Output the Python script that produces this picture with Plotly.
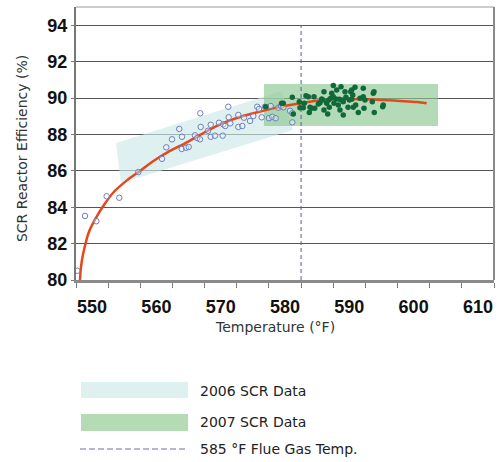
import plotly.graph_objects as go

# ---- data ----
x_2006 = [550.20, 551.40, 553.16, 554.77, 556.73, 559.69, 563.37, 564.04, 564.93, 566.06,
          566.48, 566.44, 567.10, 567.52, 568.50, 568.86, 569.28, 569.33, 569.39, 570.53,
          570.95, 570.95, 571.61, 572.24, 572.81, 572.90, 573.22, 573.68, 573.74, 573.99,
          575.24, 575.24, 575.86, 576.12, 577.06, 577.57, 578.19, 578.46, 578.88, 579.39,
          580.01, 580.28, 580.52, 581.05, 581.46, 581.88, 582.24, 583.28, 583.63, 583.63]
y_2006 = [80.51, 83.52, 83.23, 84.60, 84.52, 85.93, 86.66, 87.29, 87.73, 88.30,
          87.87, 87.20, 87.27, 87.31, 87.95, 87.80, 87.73, 89.16, 88.41, 88.20,
          88.53, 87.87, 87.93, 88.64, 87.93, 88.55, 88.46, 89.52, 88.94, 88.61,
          89.07, 88.41, 88.46, 88.92, 88.74, 89.01, 89.52, 89.40, 88.94, 89.52,
          88.89, 89.56, 88.97, 88.89, 89.47, 89.56, 89.49, 89.30, 89.16, 88.66]

x_2007 = [579.50, 581.97, 582.23, 583.63, 583.79, 584.72, 584.83, 585.50, 585.76, 586.12,
          586.28, 586.39, 587.01, 587.12, 587.68, 587.94, 588.21, 588.56, 588.56, 588.98,
          589.14, 589.39, 589.60, 589.76, 590.01, 590.12, 590.43, 590.79, 591.05, 591.21,
          591.32, 591.56, 591.83, 591.98, 592.30, 592.50, 592.72, 592.87, 593.03, 593.12,
          593.38, 593.49, 593.90, 594.16, 594.67, 594.67, 594.78, 594.94, 596.07, 596.23,
          596.34, 596.38, 597.69, 597.78, 591.56, 590.01, 588.36, 585.34, 586.65, 589.29,
          590.94, 592.87, 590.54]
y_2007 = [89.52, 89.71, 89.71, 90.04, 89.12, 89.80, 89.47, 89.71, 90.13, 90.07,
          89.21, 89.49, 90.07, 89.43, 89.67, 89.74, 89.95, 90.35, 89.34, 89.71,
          89.12, 89.49, 89.98, 90.26, 90.68, 89.71, 89.95, 89.62, 89.34, 90.62,
          89.89, 89.07, 90.35, 90.04, 89.49, 89.89, 90.35, 90.44, 90.16, 89.49,
          90.59, 89.62, 89.21, 89.98, 90.53, 90.07, 89.43, 89.89, 89.80, 90.26,
          90.35, 89.21, 89.52, 89.62, 89.80, 90.07, 89.89, 89.47, 89.43, 89.89,
          89.93, 89.93, 90.44]

fit_x = [550.62, 550.73, 550.93, 551.24, 552.02, 553.06, 554.35, 555.91, 557.98, 559.80,
         562.28, 564.62, 566.95, 569.28, 571.61, 573.43, 576.01, 578.61, 581.21, 584.83,
         587.43, 590.01, 592.61, 595.20, 597.78, 600.38, 602.98, 604.53]
fit_y = [80.00, 80.55, 81.10, 81.65, 82.65, 83.39, 84.12, 84.85, 85.49, 85.95,
         86.59, 87.09, 87.51, 87.97, 88.42, 88.70, 89.01, 89.25, 89.47, 89.70,
         89.85, 89.93, 89.95, 89.93, 89.89, 89.84, 89.78, 89.71]

band_2006_x = [556.22, 557.00, 583.74, 582.03, 556.22]
band_2006_y = [87.53, 85.33, 88.24, 90.38, 87.53]
band_2007_x = [579.23, 606.29, 606.29, 579.23, 579.23]
band_2007_y = [88.46, 88.46, 90.77, 90.77, 88.46]

flue_gas_temp = 585
flue_line_y = [80, 94]

y_ticks = [80, 82, 84, 86, 88, 90, 92, 94]
x_tick_labels = ["550", "560", "570", "580", "590", "600", "610"]

legend_labels = ["2006 SCR Data", "2007 SCR Data", "585 \u00b0F Flue Gas Temp."]

# ---- figure ----
CYAN = "rgba(205,232,232,0.65)"
GREEN = "rgba(140,200,145,0.65)"
FLUE = "#5a5aa8"

fig = go.Figure()
fig.add_trace(go.Scatter(x=band_2006_x, y=band_2006_y, fill="toself", fillcolor=CYAN,
                         mode="none", hoverinfo="skip", showlegend=False))
fig.add_trace(go.Scatter(x=band_2007_x, y=band_2007_y, fill="toself", fillcolor=GREEN,
                         mode="none", hoverinfo="skip", showlegend=False))
fig.add_trace(go.Scatter(x=[flue_gas_temp, flue_gas_temp], y=flue_line_y, mode="lines",
                         line=dict(color=FLUE, width=1, dash="4px,3px"), showlegend=False))
fig.add_trace(go.Scatter(x=fit_x, y=fit_y, mode="lines", line=dict(color="#e4481c", width=2.5, shape="spline"),
                         showlegend=False))
fig.add_trace(go.Scatter(x=x_2006, y=y_2006, mode="markers",
                         marker=dict(size=5.5, color="rgba(255,255,255,0.35)",
                                     line=dict(color="#6d7fc0", width=1)),
                         showlegend=False))
fig.add_trace(go.Scatter(x=x_2007, y=y_2007, mode="markers",
                         marker=dict(size=5.5, color="#11683a"), showlegend=False))

tick_font = dict(family="Liberation Sans", size=18, color="#111", weight="bold")
text_font = dict(family="DejaVu Sans", size=14, color="#333")

fig.update_xaxes(range=[550, 615], showgrid=False, zeroline=False, automargin=False,
                 showline=True, linecolor="#8a8a8a", linewidth=3,
                 tickmode="array", tickvals=[int(t) + 2.5 for t in x_tick_labels],
                 ticktext=x_tick_labels, ticks="", tickfont=tick_font, ticklabelstandoff=8,
                 minor=dict(tickmode="linear", tick0=550, dtick=5, ticks="outside",
                            ticklen=5, tickcolor="#777", tickwidth=1, showgrid=False))
fig.update_yaxes(range=[80, 95], tickmode="array", tickvals=y_ticks, automargin=False,
                 showgrid=True, gridcolor="#555", gridwidth=1.3, zeroline=False,
                 showline=True, linecolor="#777", linewidth=2,
                 ticks="outside", ticklen=3, tickcolor="#777", tickfont=tick_font)

shapes = [
    dict(type="line", xref="paper", yref="paper", x0=0, x1=1, y0=1, y1=1,
         line=dict(color="#9a9a9a", width=1)),
    dict(type="line", xref="paper", yref="paper", x0=1, x1=1, y0=0, y1=1,
         line=dict(color="#8a8a8a", width=2)),
    dict(type="rect", xref="paper", yref="paper", x0=0.012, x1=0.268, y0=-0.4322, y1=-0.3736,
         fillcolor="#dff0f0", line=dict(width=0)),
    dict(type="rect", xref="paper", yref="paper", x0=0.012, x1=0.268, y0=-0.5531, y1=-0.4908,
         fillcolor="#b4dbb4", line=dict(width=0)),
    dict(type="line", xref="paper", yref="paper", x0=0.0096, x1=0.268, y0=-0.619, y1=-0.619,
         line=dict(color="#6a6ac0", width=1.2, dash="6px,3px")),
]

annotations = [
    dict(text="Temperature (\u00b0F)", xref="paper", yref="paper", x=0.476, y=-0.172,
         showarrow=False, font=text_font, xanchor="center", yanchor="middle"),
    dict(text="SCR Reactor Efficiency (%)", xref="paper", yref="paper", x=-0.129, y=0.48,
         showarrow=False, font=text_font, textangle=-90, xanchor="center", yanchor="middle"),
]
legend_y = [-0.4066, -0.520, -0.619]
for lab, ly in zip(legend_labels, legend_y):
    annotations.append(dict(text=lab, xref="paper", yref="paper", x=0.292, y=ly,
                            showarrow=False, xanchor="left", yanchor="middle",
                            font=dict(family="DejaVu Sans", size=14, color="#222")))

fig.update_layout(width=500, height=462, margin=dict(l=76, r=6, t=7, b=182),
                  paper_bgcolor="white", plot_bgcolor="white",
                  shapes=shapes, annotations=annotations, showlegend=False)

fig.write_html("out.html", config={"displayModeBar": False},
               post_script="document.body.style.margin='0px';document.body.style.overflow='hidden';")
